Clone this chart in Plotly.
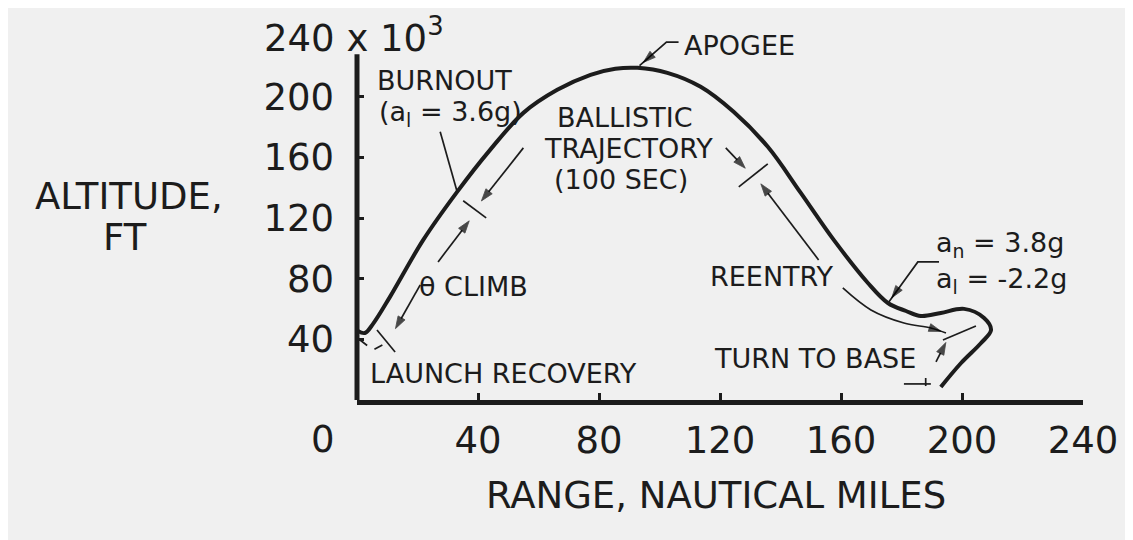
import plotly.graph_objects as go

INK = "#1c1c1c"
BG = "#f0f0f0"
FONT = "DejaVu Sans"

# ---- main trajectory (range in nautical miles, altitude in thousands of ft)
range_nm = [0.3, 2.6, 5.3, 10.9, 21.9, 33.1, 44.0, 55.0, 66.2, 77.2, 85.4, 92.7,
            102.6, 113.6, 124.5, 135.8, 146.7, 157.6, 168.9, 175.5, 181.5, 186.4,
            193.0, 200.7, 207.3, 209.6, 206.3, 199.7, 193.0]
altitude_kft = [45.5, 44.2, 50.2, 68.0, 105.6, 137.3, 165.0, 189.4, 204.6, 214.5, 218.5, 219.1,
                215.8, 206.6, 190.1, 167.0, 136.6, 105.6, 77.2, 64.0, 58.7, 55.4,
                57.4, 60.1, 54.1, 46.2, 37.6, 24.4, 8.6]

# ---- axis ticks
x_ticks = [40, 80, 120, 160, 200, 240]
y_ticks = [40, 80, 120, 160, 200]
y_axis_top = 228

# ---- guide lines without arrowheads (range, altitude)
burnout_leader_x = [27.5, 33.1]
burnout_leader_y = [176.9, 137.3]
burnout_mark_x = [35.1, 42.7]
burnout_mark_y = [131.4, 120.1]
launch_mark_x = [6.6, 12.6]
launch_mark_y = [46.2, 31.7]
launch_arc_x = [1.0, 5.3, 9.6]
launch_arc_y = [39.6, 33.0, 37.6]
ballistic_mark_x = [126.2, 135.8]
ballistic_mark_y = [140.6, 155.8]
turn_mark_x = [193.7, 204.6]
turn_mark_y = [39.6, 48.8]
end_flag_x = [180.8, 189.7]
end_flag_y = [10.6, 10.6]
end_tick_x = [188.0, 188.0]
end_tick_y = [14.5, 9.2]

# ---- guide lines ending in an arrowhead (tail ... head)
climb_low_x = [20.9, 11.9]
climb_low_y = [75.9, 44.2]
climb_high_x = [26.8, 38.1]
climb_high_y = [91.1, 120.8]
ballistic_low_x = [55.0, 40.1]
ballistic_low_y = [166.3, 128.7]
ballistic_high_x = [121.9, 129.5]
ballistic_high_y = [166.3, 150.5]
reentry_high_x = [152.6, 132.5]
reentry_high_y = [92.4, 145.2]
reentry_path_x = [160.6, 169.9, 180.8, 189.7, 194.7]
reentry_path_y = [73.9, 59.4, 50.8, 47.5, 44.2]
turn_path_x = [191.4, 195.4]
turn_path_y = [25.1, 40.9]
apogee_leader_x = [106.3, 102.3, 93.4]
apogee_leader_y = [236.0, 236.0, 220.5]
accel_leader_x = [192.4, 185.4, 175.8]
accel_leader_y = [91.1, 91.1, 64.7]

# ---- in-plot labels (text, range, altitude, anchor)
labels = [
    ("BURNOUT", 6.0, 211.0, "left"),
    ("(a<sub>l</sub> = 3.6g)", 6.6, 189.0, "left"),
    ("BALLISTIC", 88.6, 186.5, "center"),
    ("TRAJECTORY", 89.6, 166.0, "center"),
    ("(100 SEC)", 87.4, 145.5, "center"),
    ("APOGEE", 107.6, 233.7, "left"),
    ("θ CLIMB", 19.9, 75.2, "left"),
    ("LAUNCH RECOVERY", 3.6, 17.8, "left"),
    ("REENTRY", 115.9, 81.2, "left"),
    ("TURN TO BASE", 117.5, 27.1, "left"),
    ("a<sub>n</sub> = 3.8g", 190.7, 102.5, "left"),
    ("a<sub>l</sub> = -2.2g", 190.7, 79.0, "left"),
]

# ---- axis texts in plot-area fractions (text, x, y, anchor)
axis_texts = [
    ("240 x 10<sup>3</sup>", -0.131, 0.962, "left"),
    ("0", -0.0468, -0.1055, "center"),
    ("ALTITUDE,", -0.314, 0.538, "center"),
    ("FT", -0.3196, 0.428, "center"),
    ("RANGE, NAUTICAL MILES", 0.4945, -0.2507, "center"),
]

fig = go.Figure()
fig.add_trace(go.Scatter(x=range_nm, y=altitude_kft, mode="lines",
                         line=dict(color=INK, width=4, shape="spline", smoothing=1.0),
                         hoverinfo="skip", showlegend=False))

plain = [
    (burnout_leader_x, burnout_leader_y, "solid"),
    (burnout_mark_x, burnout_mark_y, "solid"),
    (launch_mark_x, launch_mark_y, "solid"),
    (launch_arc_x, launch_arc_y, "dash"),
    (ballistic_mark_x, ballistic_mark_y, "solid"),
    (turn_mark_x, turn_mark_y, "solid"),
    (end_flag_x, end_flag_y, "solid"),
    (end_tick_x, end_tick_y, "solid"),
]
for gx, gy, dash in plain:
    fig.add_trace(go.Scatter(x=gx, y=gy, mode="lines",
                             line=dict(color=INK, width=1.7, dash=dash),
                             hoverinfo="skip", showlegend=False))

arrowed = [
    (climb_low_x, climb_low_y, "linear"),
    (climb_high_x, climb_high_y, "linear"),
    (ballistic_low_x, ballistic_low_y, "linear"),
    (ballistic_high_x, ballistic_high_y, "linear"),
    (reentry_high_x, reentry_high_y, "linear"),
    (reentry_path_x, reentry_path_y, "spline"),
    (turn_path_x, turn_path_y, "linear"),
    (apogee_leader_x, apogee_leader_y, "linear"),
    (accel_leader_x, accel_leader_y, "linear"),
]
for gx, gy, shape in arrowed:
    n = len(gx)
    fig.add_trace(go.Scatter(
        x=gx, y=gy, mode="lines+markers",
        line=dict(color=INK, width=1.7, shape=shape),
        marker=dict(symbol="arrow", angleref="previous", color="#000000",
                    size=[0] * (n - 1) + [13], standoff=[0] * (n - 1) + [5],
                    line=dict(width=0.8, color="#000000")),
        hoverinfo="skip", showlegend=False))

ann = []
for txt, lx, ly, anc in labels:
    ann.append(dict(x=lx, y=ly, xref="x", yref="y", text=txt, showarrow=False,
                    xanchor=anc, yanchor="middle",
                    font=dict(family=FONT, size=27, color=INK)))
for txt, px, py, anc in axis_texts:
    ann.append(dict(x=px, y=py, xref="paper", yref="paper", text=txt, showarrow=False,
                    xanchor=anc, yanchor="middle",
                    font=dict(family=FONT, size=37, color=INK)))

fig.update_layout(
    width=1125, height=532,
    margin=dict(l=349, r=50, t=13, b=140),
    paper_bgcolor=BG, plot_bgcolor=BG,
    showlegend=False,
    annotations=ann,
    shapes=[dict(type="line", xref="paper", yref="y", x0=0, x1=0, y0=-2, y1=y_axis_top,
                 line=dict(color=INK, width=5))],
    xaxis=dict(range=[0, 240], tickvals=x_ticks, ticktext=[str(v) for v in x_ticks],
               ticks="inside", ticklen=7, tickwidth=2.5, tickcolor=INK,
               showline=True, linewidth=5, linecolor=INK, showgrid=False, zeroline=False,
               tickfont=dict(family=FONT, size=37, color=INK), ticklabelstandoff=4,
               fixedrange=True),
    yaxis=dict(range=[0, 250], tickvals=y_ticks, ticktext=[str(v) for v in y_ticks],
               ticks="inside", ticklen=7, tickwidth=2.5, tickcolor=INK,
               showline=False, showgrid=False, zeroline=False,
               tickfont=dict(family=FONT, size=37, color=INK), ticklabelstandoff=22,
               fixedrange=True),
)

fig.write_html("out.html")
